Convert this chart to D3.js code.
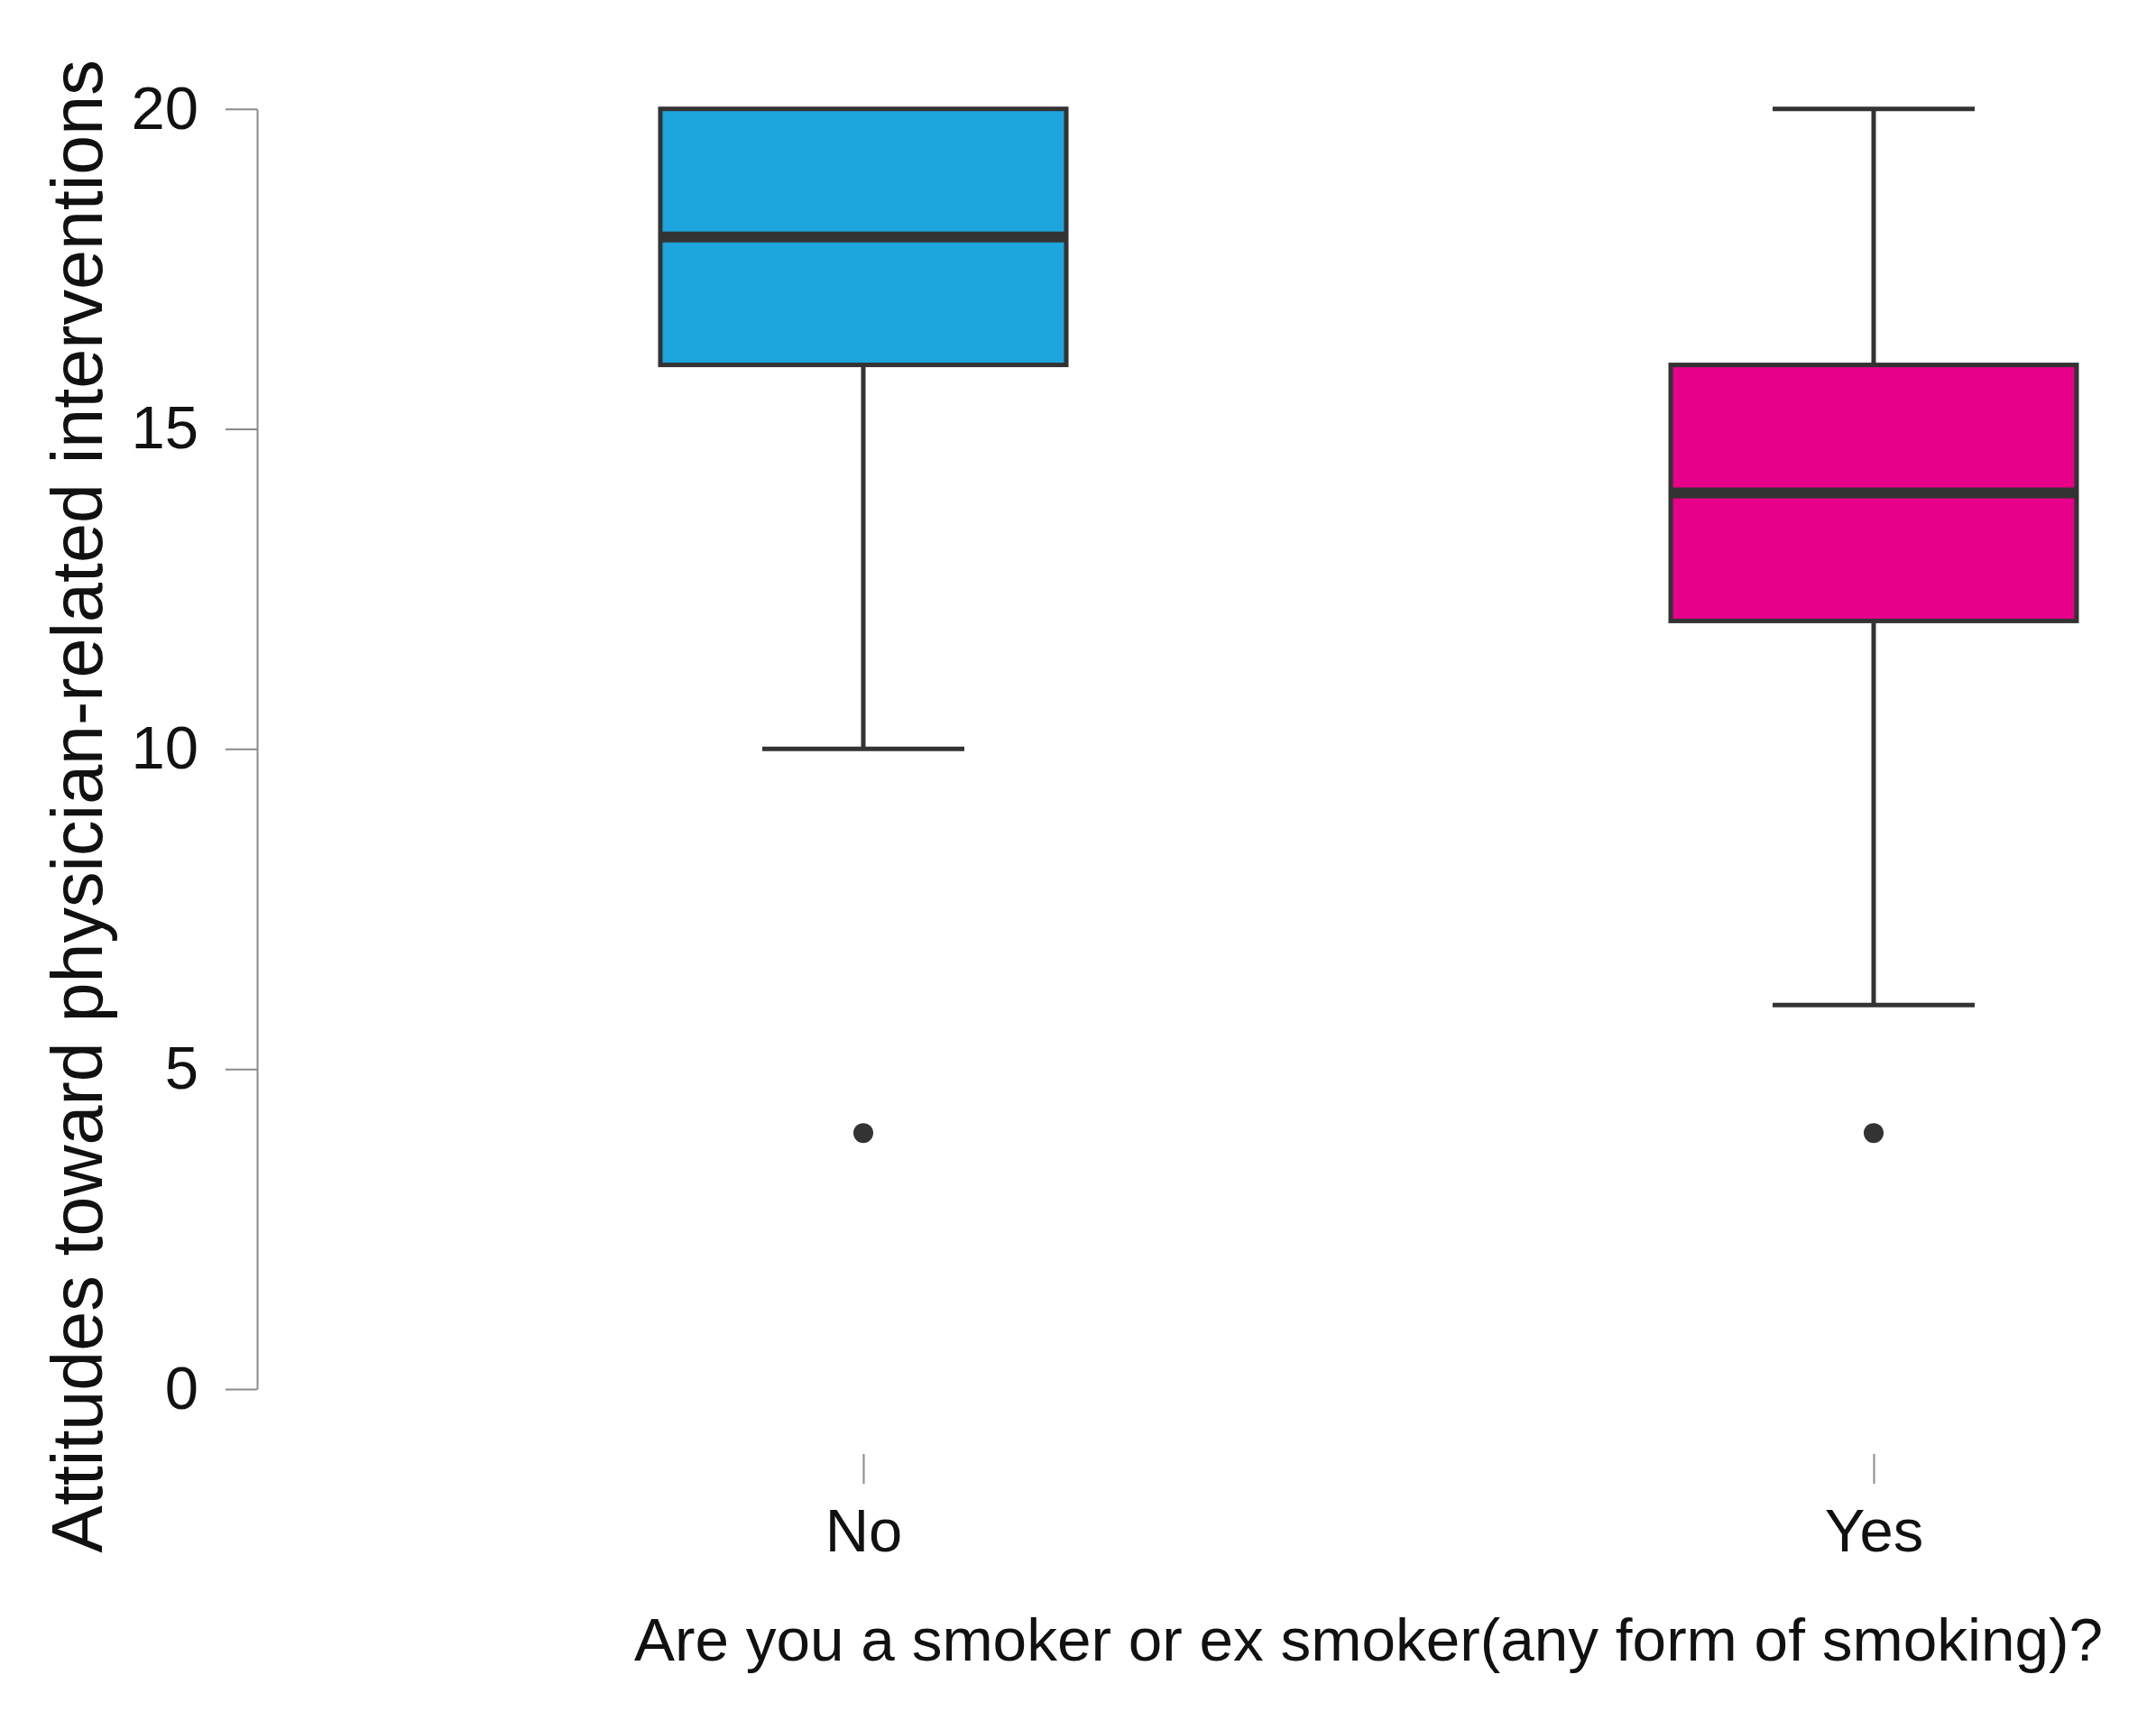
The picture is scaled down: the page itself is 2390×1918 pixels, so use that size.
<!DOCTYPE html>
<html>
<head>
<meta charset="utf-8">
<script src="https://cdn.jsdelivr.net/npm/d3@7"></script>
<style>
  html, body { margin: 0; padding: 0; background: #fff; }
  svg { display: block; font-family: "Liberation Sans", Arial, sans-serif; }
</style>
</head>
<body>
<svg id="chart" width="2390" height="1918"></svg>
<script>
// ---- data ----
const categories = ["No", "Yes"];
const whiskerLow = [10, 6];
const q1 = [16, 12];
const median = [18, 14];
const q3 = [20, 16];
const whiskerHigh = [20, 20];
const outliers = [[4], [4]];
const colors = ["#1DA5DD", "#E6008A"];
const yTicks = [0, 5, 10, 15, 20];
const xTitle = "Are you a smoker or ex smoker(any form of smoking)?";
const yTitle = "Attitudes toward physician-related interventions";

// ---- layout ----
const svg = d3.select("#chart");
const axisX = 285;
const yTop = 120.7, yBottom = 1540;
const boxW = 450, capW = 224;
const tickFont = 67;

const y = d3.scaleLinear().domain([0, 20]).range([yBottom, yTop]);
const x = d3.scalePoint().domain(categories).range([957, 2077]);

// y axis
const yAxis = svg.append("g")
  .attr("transform", `translate(${axisX},0)`)
  .call(d3.axisLeft(y).tickValues(yTicks).tickSize(35).tickSizeOuter(0).tickPadding(30));
yAxis.select(".domain").attr("stroke", "#8a8a8a").attr("stroke-width", 2);
yAxis.selectAll(".tick line").attr("stroke", "#8a8a8a").attr("stroke-width", 2);
yAxis.selectAll(".tick text").attr("font-size", tickFont).attr("fill", "#111")
  .attr("font-family", "Liberation Sans, Arial, sans-serif");

// x axis
const xAxis = svg.append("g")
  .attr("transform", `translate(0,1612)`)
  .call(d3.axisBottom(x).tickSize(33).tickPadding(27));
xAxis.select(".domain").remove();
xAxis.selectAll(".tick line").attr("stroke", "#8a8a8a").attr("stroke-width", 2);
xAxis.selectAll(".tick text").attr("font-size", tickFont).attr("fill", "#111")
  .attr("font-family", "Liberation Sans, Arial, sans-serif");

// boxes
const data = categories.map((c, i) => ({
  c, lo: whiskerLow[i], q1: q1[i], med: median[i], q3: q3[i], hi: whiskerHigh[i],
  out: outliers[i], color: colors[i]
}));

const g = svg.append("g");
const stroke = "#333333";

data.forEach(d => {
  const cx = x(d.c);
  // lower whisker
  g.append("line").attr("x1", cx).attr("x2", cx)
    .attr("y1", y(d.q1)).attr("y2", y(d.lo))
    .attr("stroke", stroke).attr("stroke-width", 5);
  g.append("line").attr("x1", cx - capW / 2).attr("x2", cx + capW / 2)
    .attr("y1", y(d.lo)).attr("y2", y(d.lo))
    .attr("stroke", stroke).attr("stroke-width", 5);
  // upper whisker
  if (d.hi > d.q3) {
    g.append("line").attr("x1", cx).attr("x2", cx)
      .attr("y1", y(d.q3)).attr("y2", y(d.hi))
      .attr("stroke", stroke).attr("stroke-width", 5);
    g.append("line").attr("x1", cx - capW / 2).attr("x2", cx + capW / 2)
      .attr("y1", y(d.hi)).attr("y2", y(d.hi))
      .attr("stroke", stroke).attr("stroke-width", 5);
  }
  // box
  g.append("rect")
    .attr("x", cx - boxW / 2).attr("width", boxW)
    .attr("y", y(d.q3)).attr("height", y(d.q1) - y(d.q3))
    .attr("fill", d.color).attr("stroke", stroke).attr("stroke-width", 5);
  // median
  g.append("line").attr("x1", cx - boxW / 2).attr("x2", cx + boxW / 2)
    .attr("y1", y(d.med)).attr("y2", y(d.med))
    .attr("stroke", stroke).attr("stroke-width", 12);
  // outliers
  d.out.forEach(v => {
    g.append("circle").attr("cx", cx).attr("cy", y(v)).attr("r", 11).attr("fill", stroke);
  });
});

// titles
svg.append("text")
  .attr("x", (x("No") + x("Yes")) / 2).attr("y", 1841)
  .attr("text-anchor", "middle").attr("font-size", 67.5).attr("fill", "#111")
  .text(xTitle);

svg.append("text")
  .attr("transform", `translate(113,894) rotate(-90)`)
  .attr("text-anchor", "middle").attr("font-size", 79).attr("fill", "#111")
  .text(yTitle);
</script>
</body>
</html>
